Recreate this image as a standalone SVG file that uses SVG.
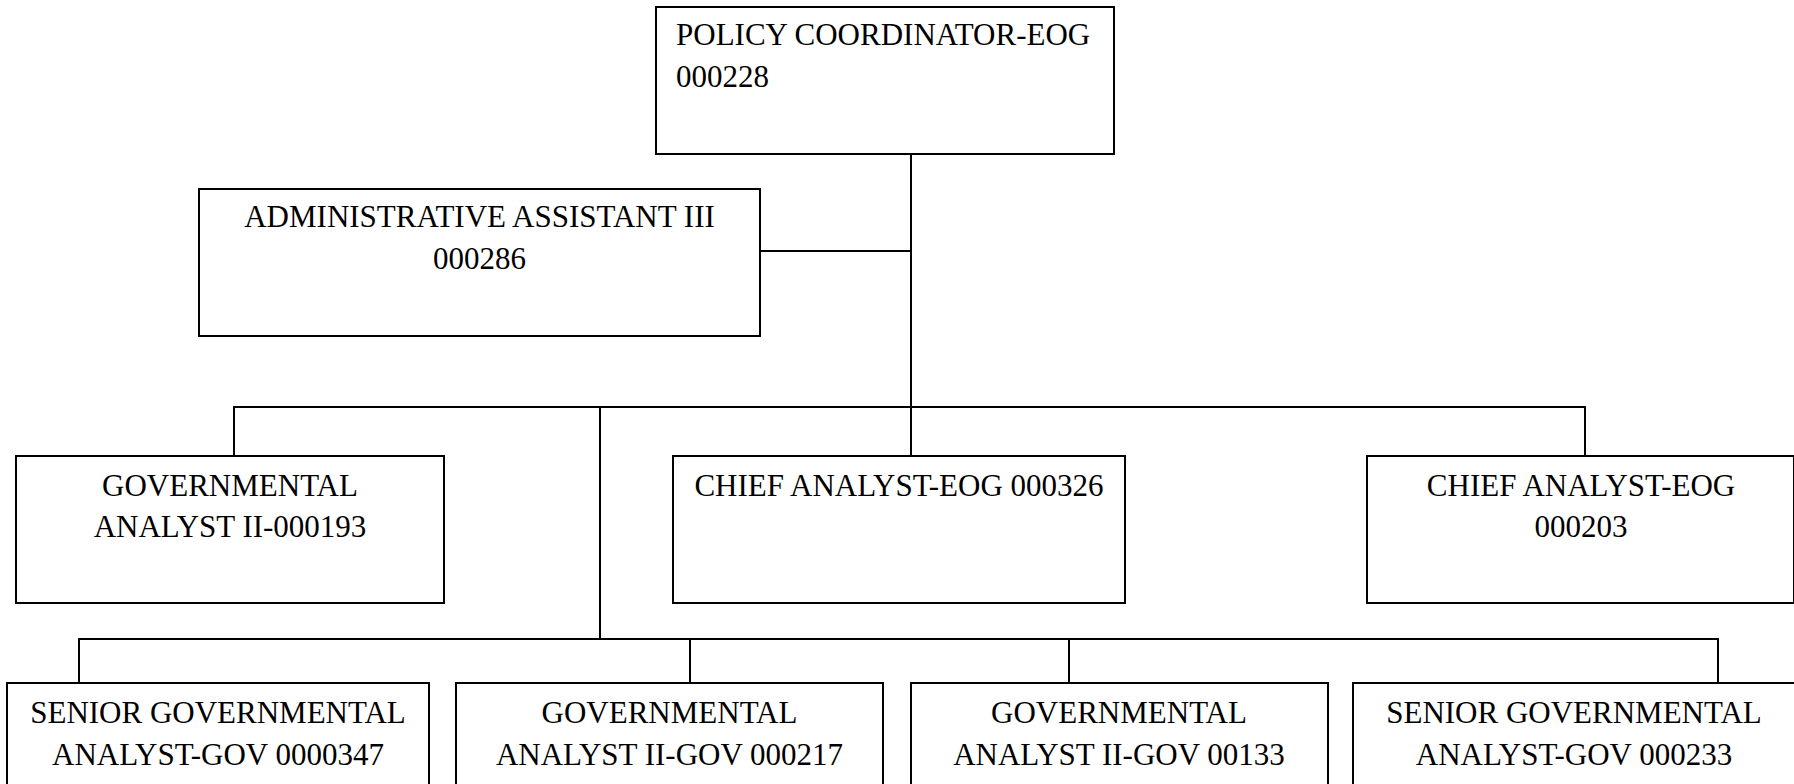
<svg xmlns="http://www.w3.org/2000/svg" width="1794" height="784" viewBox="0 0 1794 784">
  <style>
    .box { fill: #ffffff; stroke: #000000; stroke-width: 2; }
    .wire { fill: none; stroke: #000000; stroke-width: 2; }
    text { font-family: "Liberation Serif", "Times New Roman", serif; font-size: 31px; fill: #000000; }
    .c { text-anchor: middle; }
  </style>
  <rect width="1794" height="784" fill="#ffffff"/>

  <!-- connectors -->
  <g id="connectors">
    <path class="wire" d="M911 154 V406"/>
    <path class="wire" d="M760 251 H911"/>
    <path class="wire" d="M234 456 V407 H1585 V456"/>
    <path class="wire" d="M911 407 V456"/>
    <path class="wire" d="M600 407 V639"/>
    <path class="wire" d="M79 683 V639 H1718 V683"/>
    <path class="wire" d="M690 639 V683"/>
    <path class="wire" d="M1069 639 V683"/>
  </g>

  <g id="policy-coordinator">
    <rect class="box" x="656" y="7" width="458" height="147"/>
    <text x="676" y="45">POLICY COORDINATOR-EOG</text>
    <text x="676" y="87">000228</text>
  </g>

  <g id="admin-assistant">
    <rect class="box" x="199" y="189" width="561" height="147"/>
    <text class="c" x="479.5" y="227">ADMINISTRATIVE ASSISTANT III</text>
    <text class="c" x="479.5" y="269">000286</text>
  </g>

  <g id="gov-analyst-000193">
    <rect class="box" x="16" y="456" width="428" height="147"/>
    <text class="c" x="230" y="496">GOVERNMENTAL</text>
    <text class="c" x="230" y="537">ANALYST II-000193</text>
  </g>

  <g id="chief-analyst-000326">
    <rect class="box" x="673" y="456" width="452" height="147"/>
    <text class="c" x="899" y="496">CHIEF ANALYST-EOG 000326</text>
  </g>

  <g id="chief-analyst-000203">
    <rect class="box" x="1367" y="456" width="427" height="147"/>
    <text class="c" x="1581" y="496">CHIEF ANALYST-EOG</text>
    <text class="c" x="1581" y="537">000203</text>
  </g>

  <g id="senior-analyst-0000347">
    <rect class="box" x="7" y="683" width="422" height="147"/>
    <text class="c" x="218" y="723">SENIOR GOVERNMENTAL</text>
    <text class="c" x="218" y="765">ANALYST-GOV 0000347</text>
  </g>

  <g id="gov-analyst-000217">
    <rect class="box" x="456" y="683" width="427" height="147"/>
    <text class="c" x="669.5" y="723">GOVERNMENTAL</text>
    <text class="c" x="669.5" y="765">ANALYST II-GOV 000217</text>
  </g>

  <g id="gov-analyst-00133">
    <rect class="box" x="911" y="683" width="417" height="147"/>
    <text class="c" x="1119" y="723">GOVERNMENTAL</text>
    <text class="c" x="1119" y="765">ANALYST II-GOV 00133</text>
  </g>

  <g id="senior-analyst-000233">
    <rect class="box" x="1353" y="683" width="442" height="147"/>
    <text class="c" x="1574" y="723">SENIOR GOVERNMENTAL</text>
    <text class="c" x="1574" y="765">ANALYST-GOV 000233</text>
  </g>
</svg>
